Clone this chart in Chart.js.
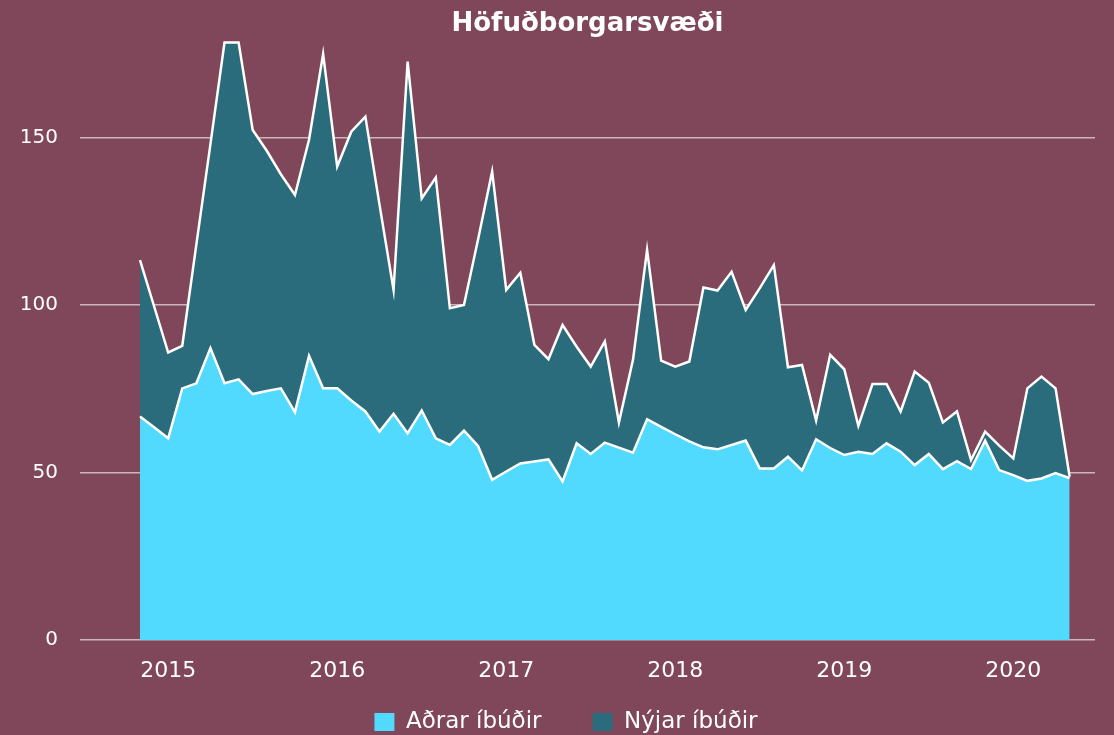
<!DOCTYPE html>
<html>
<head>
<meta charset="utf-8">
<script src="https://cdn.jsdelivr.net/npm/chart.js@4.4.1/dist/chart.umd.min.js"></script>
<style>
  html, body { margin: 0; padding: 0; background: #7f4759; }
  #wrap { width: 1114px; height: 735px; }
</style>
</head>
<body>
<div id="wrap"><canvas id="c" width="1114" height="735"></canvas></div>
<script>
const chartTitle = 'Höfuðborgarsvæði';
const seriesNames = ['Aðrar íbúðir', 'Nýjar íbúðir'];
const months = [
  '2014-11','2014-12',
  '2015-01','2015-02','2015-03','2015-04','2015-05','2015-06','2015-07','2015-08','2015-09','2015-10','2015-11','2015-12',
  '2016-01','2016-02','2016-03','2016-04','2016-05','2016-06','2016-07','2016-08','2016-09','2016-10','2016-11','2016-12',
  '2017-01','2017-02','2017-03','2017-04','2017-05','2017-06','2017-07','2017-08','2017-09','2017-10','2017-11','2017-12',
  '2018-01','2018-02','2018-03','2018-04','2018-05','2018-06','2018-07','2018-08','2018-09','2018-10','2018-11','2018-12',
  '2019-01','2019-02','2019-03','2019-04','2019-05','2019-06','2019-07','2019-08','2019-09','2019-10','2019-11','2019-12',
  '2020-01','2020-02','2020-03','2020-04','2020-05'
];
const adrar = [
  66.7, 63.5, 60.2, 75.1, 76.6, 87.1, 76.6, 77.8, 73.4, 74.3,
  75.1, 68.0, 84.8, 75.1, 75.1, 71.5, 68.2, 62.2, 67.5, 61.7,
  68.5, 60.2, 58.2, 62.5, 57.9, 47.8, 50.3, 52.7, 53.3, 53.9,
  47.3, 58.7, 55.5, 58.9, 57.4, 55.9, 65.9, 63.6, 61.4, 59.3,
  57.5, 56.9, 58.2, 59.5, 51.2, 51.2, 54.7, 50.6, 59.9, 57.3,
  55.2, 56.2, 55.5, 58.7, 56.2, 52.2, 55.5, 51.0, 53.4, 51.0,
  59.5, 50.7, 49.2, 47.5, 48.2, 49.8, 48.3
];
const nyjar = [
  46.7, 36.1, 25.6, 12.7, 41.4, 60.9, 101.7, 100.5, 78.8, 71.7,
  63.9, 64.8, 64.5, 99.8, 66.2, 80.2, 88.0, 67.8, 37.0, 110.9,
  63.3, 77.8, 40.8, 37.5, 61.6, 92.0, 54.2, 56.9, 34.8, 29.9,
  46.7, 28.8, 26.1, 30.2, 7.5, 27.7, 50.5, 19.8, 20.2, 23.8,
  47.7, 47.4, 51.7, 39.0, 53.8, 60.7, 26.7, 31.5, 5.6, 27.8,
  25.6, 7.7, 20.9, 17.7, 12.0, 27.9, 21.3, 13.9, 14.8, 2.7,
  2.7, 7.3, 5.0, 27.6, 30.4, 25.3, 0.4
];
const yearLabels = ['2015', '2016', '2017', '2018', '2019', '2020'];
const yTickValues = [0, 50, 100, 150];

const yearTickIdx = yearLabels.map(y => months.indexOf(y + '-01'));
const toPoints = arr => arr.map((v, i) => ({ x: i, y: v }));

const FONT = "'DejaVu Sans'";
const WHITE = '#ffffff';

// legend row: centred a little left of the plot centre and raised to sit close under the year labels
const legendSpan = {
  id: 'legendSpan',
  afterLayout(chart) {
    const lg = chart.legend;
    if (!lg) return;
    lg.left = 37;
    lg.right = chart.chartArea.right;
    lg.top -= 25.5;
    lg.bottom = chart.height;
  }
};

new Chart(document.getElementById('c'), {
  type: 'line',
  data: {
    datasets: [
      {
        label: seriesNames[0],
        data: toPoints(adrar),
        backgroundColor: '#52d9fe',
        borderColor: WHITE,
        borderWidth: 2.5,
        pointRadius: 0,
        tension: 0,
        fill: 'origin'
      },
      {
        label: seriesNames[1],
        data: toPoints(nyjar),
        backgroundColor: '#2a6b7c',
        borderColor: WHITE,
        borderWidth: 2.5,
        pointRadius: 0,
        tension: 0,
        fill: '-1'
      }
    ]
  },
  plugins: [legendSpan],
  options: {
    responsive: false,
    devicePixelRatio: 1,
    animation: false,
    layout: { padding: { left: 0, right: 19, top: 0, bottom: 0 } },
    plugins: {
      title: {
        display: true,
        text: chartTitle,
        color: WHITE,
        fullSize: false,
        font: { family: FONT, weight: 'bold', size: 26 },
        padding: { top: 9, bottom: 0 }
      },
      legend: {
        display: true,
        position: 'bottom',
        maxHeight: 50,
        labels: {
          color: WHITE,
          font: { family: FONT, size: 23 },
          boxWidth: 20,
          boxHeight: 18,
          padding: 51,
          generateLabels: (chart) => Chart.defaults.plugins.legend.labels.generateLabels(chart)
            .map(l => Object.assign(l, { lineWidth: 0, strokeStyle: 'rgba(0,0,0,0)' }))
        }
      },
      tooltip: { enabled: false }
    },
    scales: {
      x: {
        type: 'linear',
        min: -4.26,
        max: 67.8,
        grid: { display: false },
        border: { display: false },
        afterBuildTicks: (s) => { s.ticks = yearTickIdx.map(v => ({ value: v })); },
        afterFit: (s) => { s.height = 45; },
        ticks: {
          color: WHITE,
          font: { family: FONT, size: 22 },
          padding: 10,
          maxRotation: 0,
          autoSkip: false,
          callback: (v, i) => yearLabels[i]
        }
      },
      y: {
        stacked: true,
        min: 0,
        max: 179,
        border: { display: false },
        grid: { color: 'rgba(255,255,255,0.6)', lineWidth: 1.5, drawTicks: false },
        afterBuildTicks: (s) => { s.ticks = yTickValues.map(v => ({ value: v })); },
        afterFit: (s) => { s.width = 80; },
        ticks: {
          color: WHITE,
          font: { family: FONT, size: 20 },
          padding: 22,
          callback: (v) => String(v)
        }
      }
    }
  }
});
</script>
</body>
</html>
